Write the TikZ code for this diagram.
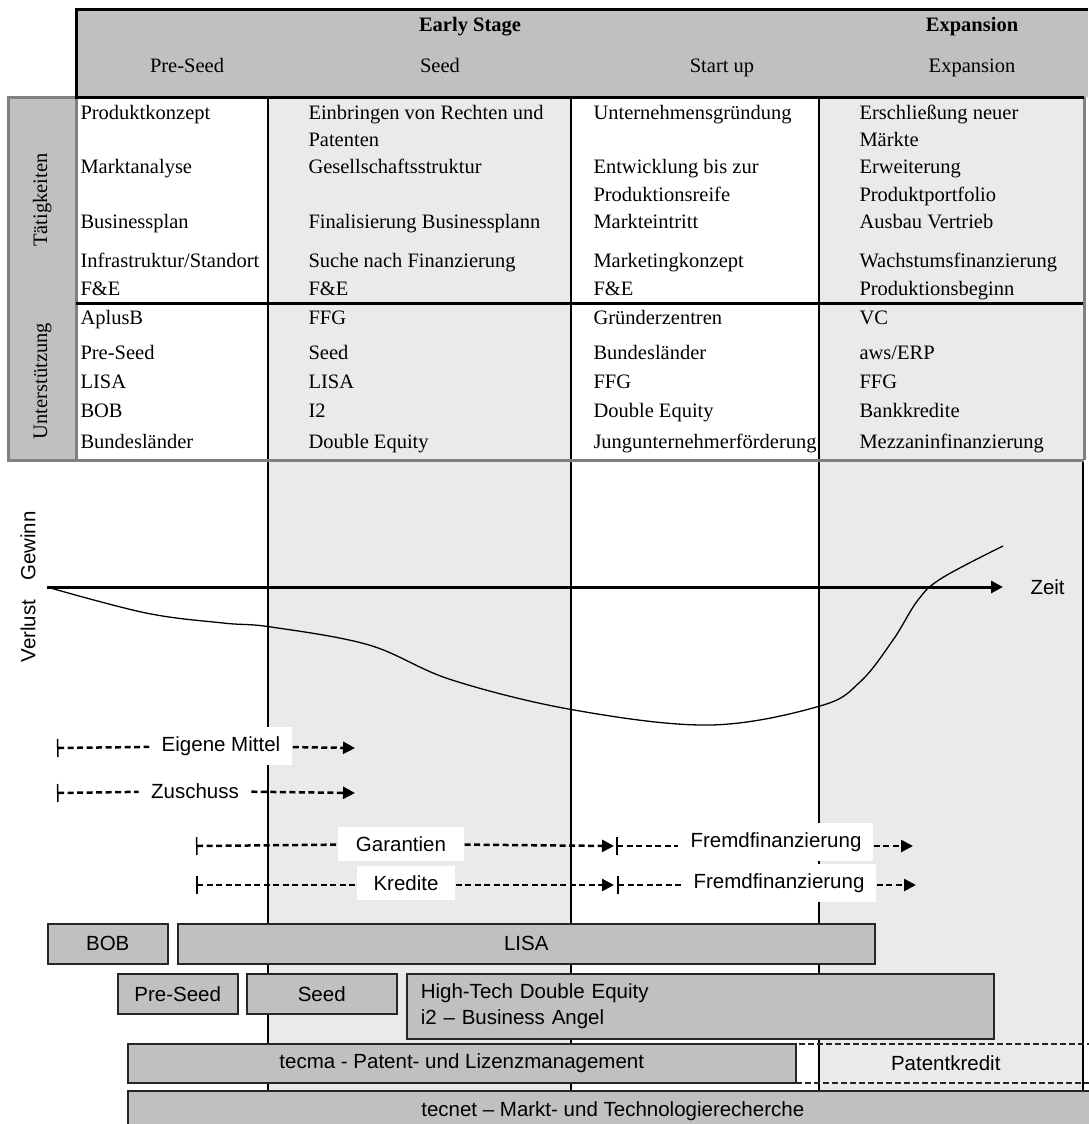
\documentclass[tikz,border=0pt]{standalone}
\usepackage{fontspec}
\setmainfont{Liberation Serif}
\setsansfont{Liberation Sans}
\usetikzlibrary{arrows.meta}
\tikzset{
every picture/.style={
line width=1pt
}}
\definecolor{headgray}{HTML}{C0C0C0}
\definecolor{colgray}{HTML}{EAEAEA}
\definecolor{rimgray}{HTML}{808080}

\begin{document}
\begin{tikzpicture}[x=1pt, y=-1pt,
cell/.style = {anchor=west, inner sep=0pt, text height=14pt, text depth=4pt, font=\fontsize{20.5}{24}\selectfont},
head/.style = {inner sep=0pt, text height=14pt, text depth=4pt, font=\fontsize{20.5}{24}\selectfont},
lab/.style = {fill=white, inner xsep=12pt, inner ysep=9pt, font=\sffamily\fontsize{20.5}{24}\selectfont},
finline/.style = {dash pattern=on 6pt off 3.5pt, line width=2.5pt},
bar/.style = {draw=black!85, fill=headgray, line width=1.5pt, anchor=north west, font=\sffamily\fontsize{20.5}{26}\selectfont}]

\useasboundingbox (0,0) rectangle (1088,1124);

% Hintergrund der Spalten
\fill[colgray] (268,97) rectangle (571,1124);
\fill[colgray] (819,97) rectangle (1084,1124);
\fill[headgray] (76,10) rectangle (1088,97);
\draw[rimgray, line width=3pt, fill=headgray] (8,97) rectangle (76,460);

% Linien
\draw[line width=1.3pt] (268,460) -- (268,1124);
\draw[line width=1.3pt] (571,460) -- (571,1124);
\draw[line width=1.3pt] (819,460) -- (819,1124);
\draw[line width=1.3pt] (1083,460) -- (1083,1124);
\draw[line width=2pt] (268,97) -- (268,460);
\draw[line width=2pt] (571,97) -- (571,460);
\draw[line width=2pt] (819,97) -- (819,460);
\draw[line width=3pt] (76,303) -- (1084,303);
\draw[rimgray, line width=3pt] (8,460) -- (1084,460);
\draw[rimgray, line width=3pt] (1084,97) -- (1084,460);
\draw[line width=3pt] (1088,10) -- (76,10) -- (76,97) -- (1084,97);

% Kopf
\node[head, font=\bfseries\fontsize{20.5}{24}\selectfont] (early) at (470,27) {Early Stage};
\node[head, font=\bfseries\fontsize{20.5}{24}\selectfont] (expbold) at (972,27) {Expansion};
\node[head] (hpre) at (187,68) {Pre-Seed};
\node[head] (hseed) at (440,68) {Seed};
\node[head] (hstart) at (722,68) {Start up};
\node[head] (hexp) at (972,68) {Expansion};
\node[head, rotate=90] (taet) at (42,200) {Tätigkeiten};
\node[head, rotate=90] (unter) at (42,381) {Unterstützung};

% Pre-Seed
\node[cell] (p1) at (80,114) {Produktkonzept};
\node[cell] (p2) at (80,168) {Marktanalyse};
\node[cell] (p3) at (80,223) {Businessplan};
\node[cell] (p4) at (80,262) {Infrastruktur/Standort};
\node[cell] (p5) at (80,290) {F\&E};
\node[cell] (p6) at (80,319) {AplusB};
\node[cell] (p7) at (80,354) {Pre-Seed};
\node[cell] (p8) at (80,383) {LISA};
\node[cell] (p9) at (80,412) {BOB};
\node[cell] (p10) at (80,443) {Bundesländer};
% Seed
\node[cell] (s1) at (308,114) {Einbringen von Rechten und};
\node[cell] (s2) at (308,141) {Patenten};
\node[cell] (s3) at (308,168) {Gesellschaftsstruktur};
\node[cell] (s4) at (308,223) {Finalisierung Businessplann};
\node[cell] (s5) at (308,262) {Suche nach Finanzierung};
\node[cell] (s6) at (308,290) {F\&E};
\node[cell] (s7) at (308,319) {FFG};
\node[cell] (s8) at (308,354) {Seed};
\node[cell] (s9) at (308,383) {LISA};
\node[cell] (s10) at (308,412) {I2};
\node[cell] (s11) at (308,443) {Double Equity};
% Start up
\node[cell] (u1) at (593,114) {Unternehmensgründung};
\node[cell] (u2) at (593,168) {Entwicklung bis zur};
\node[cell] (u3) at (593,196) {Produktionsreife};
\node[cell] (u4) at (593,223) {Markteintritt};
\node[cell] (u5) at (593,262) {Marketingkonzept};
\node[cell] (u6) at (593,290) {F\&E};
\node[cell] (u7) at (593,319) {Gründerzentren};
\node[cell] (u8) at (593,354) {Bundesländer};
\node[cell] (u9) at (593,383) {FFG};
\node[cell] (u10) at (593,412) {Double Equity};
\node[cell] (u11) at (593,443) {Jungunternehmerförderung};
% Expansion
\node[cell] (e1) at (859,114) {Erschließung neuer};
\node[cell] (e2) at (859,141) {Märkte};
\node[cell] (e3) at (859,168) {Erweiterung};
\node[cell] (e4) at (859,196) {Produktportfolio};
\node[cell] (e5) at (859,223) {Ausbau Vertrieb};
\node[cell] (e6) at (859,262) {Wachstumsfinanzierung};
\node[cell] (e7) at (859,290) {Produktionsbeginn};
\node[cell] (e8) at (859,319) {VC};
\node[cell] (e9) at (859,354) {aws/ERP};
\node[cell] (e10) at (859,383) {FFG};
\node[cell] (e11) at (859,412) {Bankkredite};
\node[cell] (e12) at (859,443) {Mezzaninfinanzierung};

% Gewinn / Verlust
\coordinate (origin) at (47,587);
\coordinate (axisend) at (1003,587);
\draw[line width=3pt, -{Triangle[length=12pt,width=12pt]}] (origin) -- (axisend);
\node[font=\sffamily\fontsize{20.5}{24}\selectfont, anchor=west, inner sep=0pt] (zeit) at (1030,587) {Zeit};
\node[font=\sffamily\fontsize{20.5}{24}\selectfont, rotate=90, inner sep=0pt] (gewinn) at (28,546) {Gewinn};
\node[font=\sffamily\fontsize{20.5}{24}\selectfont, rotate=90, inner sep=0pt] (verlust) at (28,631) {Verlust};
\draw[line width=1.3pt] plot[smooth, tension=0.6] coordinates {(47,587) (146,613) (223,623) (271,627) (369,645) (452,680) (574,710) (710,725) (820,706) (860,682) (893,640) (918,600) (942,578) (1003,546)};

% Finanzierung
\coordinate (eigA) at (57,748);
\coordinate (eigB) at (355,748);
\node[lab] (eig) at (221,746) {Eigene Mittel};
\draw[finline, {Bar[width=18pt,line width=1.5pt]}-] (eigA) -- (eig);
\draw[finline, -{Triangle[length=12pt,width=12pt]}] (eig) -- (eigB);

\coordinate (zusA) at (57,793);
\coordinate (zusB) at (355,793);
\node[lab] (zus) at (195,791) {Zuschuss};
\draw[finline, {Bar[width=18pt,line width=1.5pt]}-] (zusA) -- (zus);
\draw[finline, -{Triangle[length=12pt,width=12pt]}] (zus) -- (zusB);

\coordinate (garA) at (196,846);
\coordinate (garB) at (614,846);
\node[lab, inner xsep=18pt] (gar) at (401,844) {Garantien};
\draw[finline, {Bar[width=18pt,line width=1.5pt]}-] (garA) -- (gar);
\draw[finline, -{Triangle[length=12pt,width=12pt]}] (gar) -- (garB);
\coordinate (fremdA) at (616,846);
\coordinate (fremdB) at (913,846);
\node[lab] (fremd) at (776,842) {Fremdfinanzierung};
\draw[finline, {Bar[width=18pt,line width=1.5pt]}-] (fremdA) -- (fremdA -| fremd.west);
\draw[finline, -{Triangle[length=12pt,width=12pt]}] (fremdB -| fremd.east) -- (fremdB);

\coordinate (kreA) at (196,885);
\coordinate (kreB) at (614,885);
\node[lab, inner xsep=17pt] (kre) at (406,883) {Kredite};
\draw[finline, {Bar[width=18pt,line width=1.5pt]}-] (kreA) -- (kreA -| kre.west);
\draw[finline, -{Triangle[length=12pt,width=12pt]}] (kreB -| kre.east) -- (kreB);
\coordinate (fremdC) at (617,885);
\coordinate (fremdD) at (916,885);
\node[lab] (fremdk) at (779,883) {Fremdfinanzierung};
\draw[finline, {Bar[width=18pt,line width=1.5pt]}-] (fremdC) -- (fremdC -| fremdk.west);
\draw[finline, -{Triangle[length=12pt,width=12pt]}] (fremdD -| fremdk.east) -- (fremdD);

% Programme
\node[bar, minimum width=120pt, minimum height=40pt] (bob) at (47,923) {BOB};
\node[bar, minimum width=697pt, minimum height=40pt] (lisa) at (177,923) {LISA};
\node[bar, minimum width=120pt, minimum height=40pt] (preseed) at (117,973) {Pre-Seed};
\node[bar, minimum width=150pt, minimum height=40pt] (seed) at (246,973) {Seed};
\node[bar, minimum height=65pt, inner xsep=14pt, text width=559pt, align=left] (hitech) at (406,973) {High-Tech Double Equity\\i2 – Business Angel};
\node[bar, minimum width=668pt, minimum height=39pt] (tecma) at (127,1043) {tecma - Patent- und Lizenzmanagement};
\node[bar, fill=none, dash pattern=on 6pt off 3pt, minimum width=300pt, minimum height=39pt] (patent) at (795,1043) {Patentkredit};
\node[bar, minimum width=970pt, minimum height=40pt] (tecnet) at (127,1090) {tecnet – Markt- und Technologierecherche};
\end{tikzpicture}
\end{document}
